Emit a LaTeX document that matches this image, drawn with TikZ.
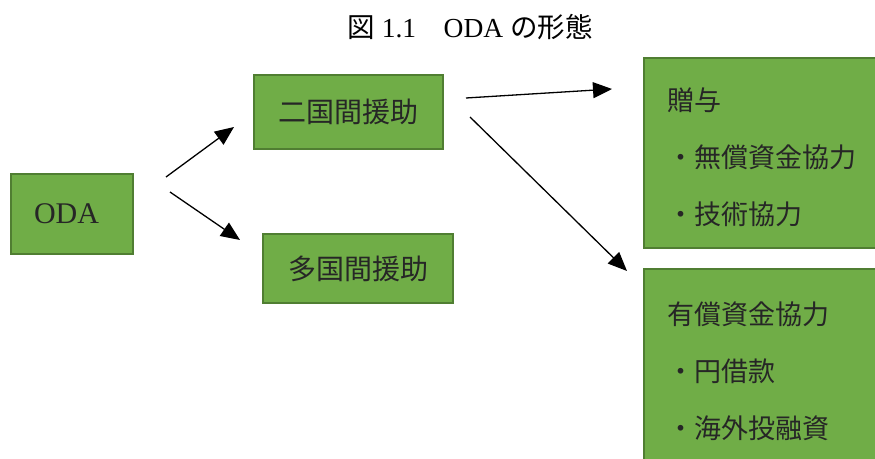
\documentclass[tikz,border=0pt]{standalone}
\usepackage{fontspec}
\setmainfont{Liberation Serif}
\newfontfamily\jp{Noto Sans CJK JP}
\usetikzlibrary{arrows.meta}
\definecolor{boxfill}{HTML}{70AD47}
\definecolor{boxline}{HTML}{507E32}
\tikzset{>={Triangle[length=19pt,width=16pt]},
  greenbox/.style={draw=boxline,fill=boxfill,line width=2pt,inner sep=0pt,text=black!85,font=\fontsize{28}{34}\selectfont\jp},
  listbox/.style={greenbox,anchor=north west,align=left,text width=216pt,minimum width=262pt,font=\fontsize{27}{57}\selectfont\jp},
  arr/.style={->,line width=1.3pt}}

\begin{document}
\begin{tikzpicture}[x=1pt,y=1pt]
			\useasboundingbox (0,0) rectangle (875,458);
			\clip (0,0) rectangle (875,458);
			\node (title) at (470,431) {\fontsize{27.5}{30}\selectfont{\jp 図}~1.1{\jp 　}ODA {\jp の形態}};
			\node[greenbox,minimum width=122pt,minimum height=80pt,text width=76pt,align=left] (oda) at (72,244) {\fontsize{30}{34}\selectfont\rmfamily ODA};
			\node[greenbox,minimum width=189pt,minimum height=74pt] (bi) at (348.5,346) {二国間援助};
			\node[greenbox,minimum width=190pt,minimum height=69pt] (multi) at (358,189.5) {多国間援助};
			\node[listbox,minimum height=190pt] (grant) at (643,401) {\rule{0pt}{32pt}贈与\\・無償資金協力\\・技術協力};
			\node[listbox,minimum height=204pt] (loan) at (643,190) {\rule{0pt}{22pt}有償資金協力\\・円借款\\・海外投融資};
			% arrows
			\coordinate (a1s) at (166,281); \coordinate (a1e) at (234,331);
			\coordinate (a2s) at (170,266); \coordinate (a2e) at (240,218);
			\coordinate (a3s) at (466,360); \coordinate (a3e) at (612,369);
			\coordinate (a4s) at (470,341); \coordinate (a4e) at (627,187);
			\draw[arr] (a1s) -- (a1e);
			\draw[arr] (a2s) -- (a2e);
			\draw[arr] (a3s) -- (a3e);
			\draw[arr] (a4s) -- (a4e);
		\end{tikzpicture}
\end{document}
